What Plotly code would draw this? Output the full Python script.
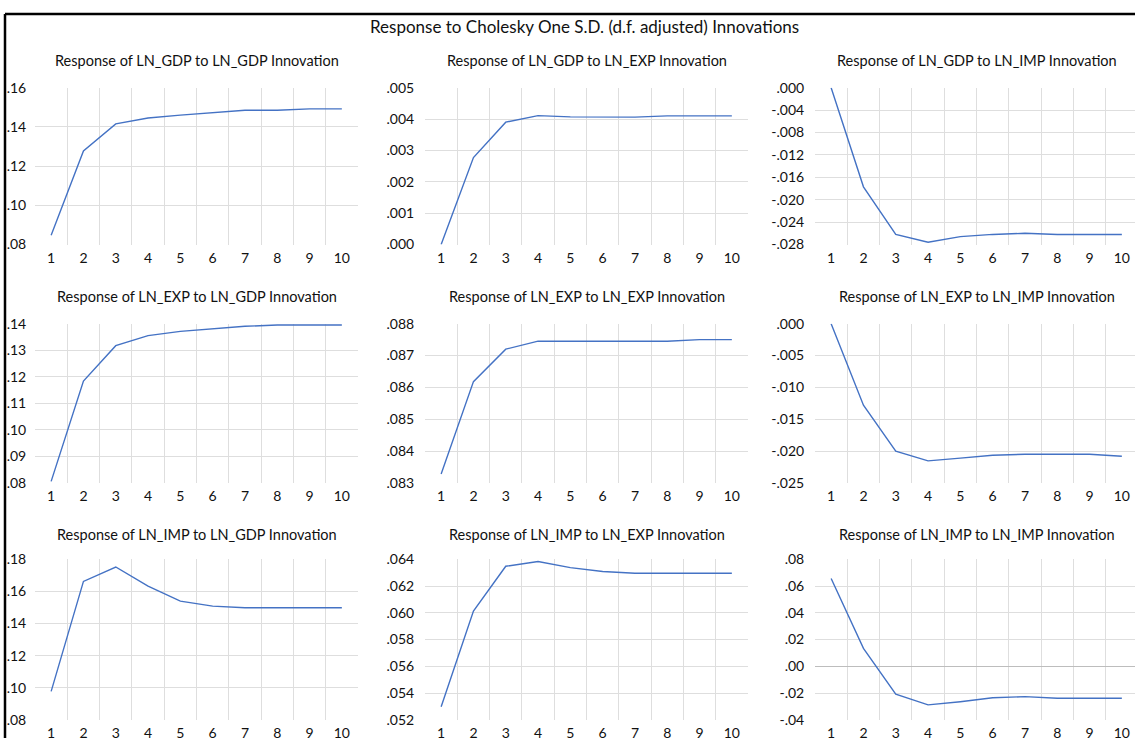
import plotly.graph_objects as go

W, H = 1135, 746

periods = [1, 2, 3, 4, 5, 6, 7, 8, 9, 10]
x_labels = ["1", "2", "3", "4", "5", "6", "7", "8", "9", "10"]

main_title = "Response to Cholesky One S.D. (d.f. adjusted) Innovations"

titles = [
    "Response of LN_GDP to LN_GDP Innovation",
    "Response of LN_GDP to LN_EXP Innovation",
    "Response of LN_GDP to LN_IMP Innovation",
    "Response of LN_EXP to LN_GDP Innovation",
    "Response of LN_EXP to LN_EXP Innovation",
    "Response of LN_EXP to LN_IMP Innovation",
    "Response of LN_IMP to LN_GDP Innovation",
    "Response of LN_IMP to LN_EXP Innovation",
    "Response of LN_IMP to LN_IMP Innovation",
]

gdp_to_gdp = [0.0847, 0.1277, 0.1415, 0.1445, 0.1460, 0.1473, 0.1485, 0.1485, 0.1492, 0.1492]
gdp_to_exp = [0.0000, 0.00277, 0.00390, 0.00411, 0.00407, 0.00406, 0.00406, 0.00410, 0.00410, 0.00410]
gdp_to_imp = [0.0000, -0.0177, -0.0262, -0.0276, -0.0266, -0.0262, -0.0260, -0.0262, -0.0262, -0.0262]
exp_to_gdp = [0.0806, 0.1184, 0.1317, 0.1355, 0.1371, 0.1381, 0.1390, 0.1395, 0.1395, 0.1395]
exp_to_exp = [0.08328, 0.08618, 0.08720, 0.08745, 0.08745, 0.08745, 0.08745, 0.08745, 0.08750, 0.08750]
exp_to_imp = [0.0000, -0.0128, -0.0200, -0.02154, -0.0211, -0.02066, -0.0205, -0.0205, -0.0205, -0.0208]
imp_to_gdp = [0.0977, 0.1663, 0.1753, 0.1633, 0.1540, 0.1509, 0.1499, 0.1499, 0.1499, 0.1499]
imp_to_exp = [0.05297, 0.06013, 0.06349, 0.06385, 0.06339, 0.06310, 0.06297, 0.06297, 0.06297, 0.06297]
imp_to_imp = [0.0658, 0.0134, -0.0208, -0.0289, -0.0265, -0.0236, -0.0227, -0.0239, -0.0239, -0.0239]

series = [gdp_to_gdp, gdp_to_exp, gdp_to_imp,
          exp_to_gdp, exp_to_exp, exp_to_imp,
          imp_to_gdp, imp_to_exp, imp_to_imp]

y_tick_labels = [
    [".08", ".10", ".12", ".14", ".16"],
    [".000", ".001", ".002", ".003", ".004", ".005"],
    ["-.028", "-.024", "-.020", "-.016", "-.012", "-.008", "-.004", ".000"],
    [".08", ".09", ".10", ".11", ".12", ".13", ".14"],
    [".083", ".084", ".085", ".086", ".087", ".088"],
    ["-.025", "-.020", "-.015", "-.010", "-.005", ".000"],
    [".08", ".10", ".12", ".14", ".16", ".18"],
    [".052", ".054", ".056", ".058", ".060", ".062", ".064"],
    ["-.04", "-.02", ".00", ".02", ".04", ".06", ".08"],
]

# layout geometry (pixels)
col_px = [(35, 358), (425, 748), (815, 1138)]
row_px = [(80.5, 241), (322, 485), (563.3, 727.3)]
title_px = [53, 294, 538]

LINE_COLOR = "#4472C4"
GRID_COLOR = "#DEDEDE"
TEXT_COLOR = "#111111"
FONT = "Lato, 'Open Sans', sans-serif"

fig = go.Figure()
layout = dict(
    width=W, height=H,
    margin=dict(l=0, r=0, t=0, b=0),
    paper_bgcolor="white", plot_bgcolor="white",
    showlegend=False,
    font=dict(family=FONT, size=14, color=TEXT_COLOR),
)
annotations = []
for i in range(9):
    r, c = divmod(i, 3)
    k = i + 1
    xn = "x" if k == 1 else f"x{k}"
    yn = "y" if k == 1 else f"y{k}"
    fig.add_trace(go.Scatter(x=periods, y=series[i], mode="lines",
                             line=dict(color=LINE_COLOR, width=1.4),
                             xaxis=xn, yaxis=yn, hoverinfo="skip"))
    x0p, x1p = col_px[c]
    xr_end = 10.5
    if x1p > W:
        xr_end = 10.5 - (x1p - W) / ((x1p - x0p) / 10.0)
        x1p = W
    top, bot = row_px[r]
    yvals = [float(t) for t in y_tick_labels[i]]
    ax_x = dict(
        domain=[x0p / W, x1p / W], anchor=yn, range=[0.5, xr_end],
        tickmode="array", tickvals=periods, ticktext=x_labels,
        showgrid=False, zeroline=False, showline=False, ticks="",
        ticklabelstandoff=3,
        tickfont=dict(size=14, color=TEXT_COLOR),
        minor=dict(tickmode="array", tickvals=[p + 0.5 for p in periods[:-1]],
                   showgrid=True, gridcolor=GRID_COLOR, gridwidth=1, ticks=""),
        fixedrange=True,
    )
    ax_y = dict(
        domain=[1 - bot / H, 1 - top / H], anchor=xn,
        range=[yvals[0], yvals[-1]],
        tickmode="array", tickvals=yvals, ticktext=y_tick_labels[i],
        showgrid=False,
        zeroline=(i == 8), zerolinecolor="#BDBDBD", zerolinewidth=1.5,
        showline=False, ticks="outside", ticklen=0, tickcolor="rgba(0,0,0,0)",
        ticklabelstandoff=(5 if c == 0 else 7),
        tickfont=dict(size=14, color=TEXT_COLOR),
        minor=dict(tickmode="array", tickvals=yvals[1:-1], ticks="inside", ticklen=0,
                   tickcolor="rgba(0,0,0,0)",
                   showgrid=True, gridcolor=GRID_COLOR, gridwidth=1),
        fixedrange=True,
    )
    layout["xaxis" if k == 1 else f"xaxis{k}"] = ax_x
    layout["yaxis" if k == 1 else f"yaxis{k}"] = ax_y
    annotations.append(dict(
        text=titles[i], xref="paper", yref="paper",
        x=(col_px[c][0] + col_px[c][1]) / 2 / W, y=1 - title_px[r] / H,
        xanchor="center", yanchor="middle", showarrow=False,
        font=dict(size=14.5, color=TEXT_COLOR, family=FONT)))

annotations.append(dict(
    text=main_title, xref="paper", yref="paper",
    x=584 / W, y=1 - 18 / H, xanchor="center", yanchor="middle",
    showarrow=False, font=dict(size=17, color=TEXT_COLOR, family=FONT)))

layout["annotations"] = annotations
layout["shapes"] = [
    dict(type="line", xref="paper", yref="paper", x0=5 / W, x1=1, y0=1 - 5 / H, y1=1 - 5 / H,
         line=dict(color="black", width=2.5), layer="below"),
    dict(type="line", xref="paper", yref="paper", x0=5 / W, x1=5 / W, y0=0, y1=1 - 5 / H,
         line=dict(color="black", width=2.5), layer="below"),
]
fig.update_layout(**layout)
fig.write_html("out.html",
               config={"displayModeBar": False, "staticPlot": True},
               post_script="document.body.style.margin='0';document.body.style.overflow='hidden';")
